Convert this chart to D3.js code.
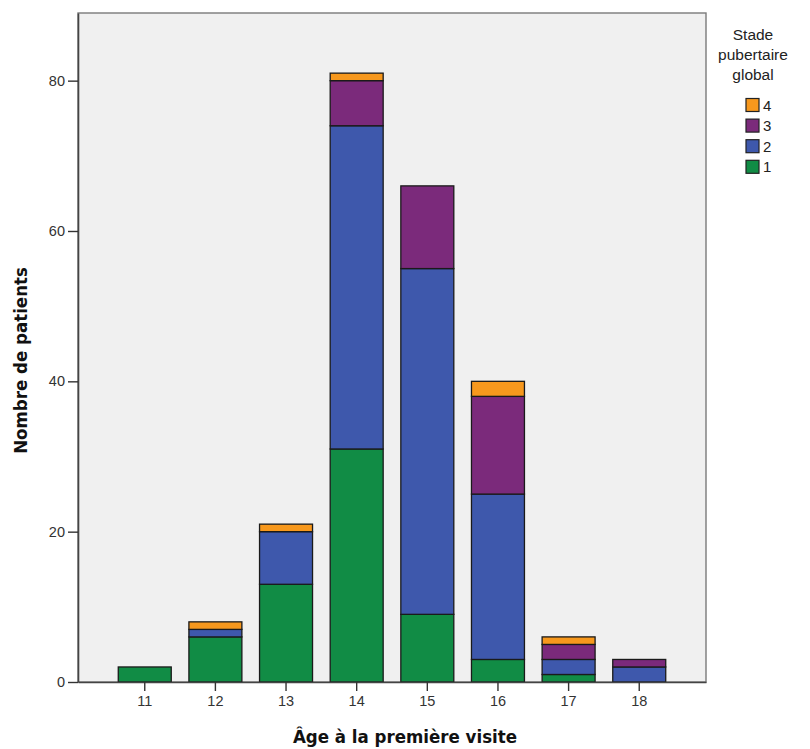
<!DOCTYPE html>
<html><head><meta charset="utf-8">
<script src="https://cdn.jsdelivr.net/npm/d3@7"></script>
<style>body{margin:0;background:#fff}</style>
</head><body>
<svg id="c" width="810" height="749"></svg>
<script>
const ages = ["11","12","13","14","15","16","17","18"];
const stage1 = [2, 6, 13, 31, 9, 3, 1, 0];
const stage2 = [0, 1, 7, 43, 46, 22, 2, 2];
const stage3 = [0, 0, 0, 6, 11, 13, 2, 1];
const stage4 = [0, 1, 1, 1, 0, 2, 1, 0];
const stageKeys = ["1","2","3","4"];
const stageColors = ["#118C45","#3E58AC","#7B2A7B","#F7981D"];
const yTicks = [0,20,40,60,80];

const svg = d3.select("#c");
const L=78, R=706, T=13, B=682;
const rows = ages.map((a,i)=>({age:a,"1":stage1[i],"2":stage2[i],"3":stage3[i],"4":stage4[i]}));
const x = d3.scaleBand().domain(ages).range([L,R]).paddingInner(0.25).paddingOuter(0.57);
const y = d3.scaleLinear().domain([0,89]).range([B,T]);
const color = d3.scaleOrdinal().domain(stageKeys).range(stageColors);

svg.append("rect").attr("x",L).attr("y",T).attr("width",R-L).attr("height",B-T)
  .attr("fill","#F0F0F0").attr("stroke","#7a7a7a").attr("stroke-width",1.4);

const stacked = d3.stack().keys(stageKeys)(rows);
svg.append("g").selectAll("g").data(stacked).join("g")
  .attr("fill",d=>color(d.key))
  .selectAll("rect").data(d=>d.filter(s=>s[1]-s[0]>0)).join("rect")
  .attr("x",d=>x(d.data.age)).attr("width",x.bandwidth())
  .attr("y",d=>y(d[1])).attr("height",d=>y(d[0])-y(d[1]))
  .attr("stroke","#1a1a1a").attr("stroke-width",1.3);

const ya = svg.append("g").attr("transform",`translate(${L},0)`)
  .call(d3.axisLeft(y).tickValues(yTicks).tickSize(10).tickSizeOuter(0).tickPadding(3));
const xa = svg.append("g").attr("transform",`translate(0,${B})`)
  .call(d3.axisBottom(x).tickSize(9).tickSizeOuter(0).tickPadding(5));
[ya,xa].forEach(g=>{
  g.select(".domain").attr("stroke","#444").attr("stroke-width",1.6);
  g.selectAll(".tick line").attr("stroke","#333").attr("stroke-width",1.4);
  g.selectAll(".tick text").attr("fill","#333").attr("font-family","Liberation Sans, Arial, sans-serif").attr("font-size",14.5);
});

svg.append("text").attr("transform",`translate(27,${(T+B)/2+13}) rotate(-90)`)
  .attr("text-anchor","middle").attr("font-family","DejaVu Sans Condensed, DejaVu Sans, sans-serif")
  .attr("font-weight","bold").attr("font-size",18.5).attr("fill","#111").text("Nombre de patients");
svg.append("text").attr("x",405).attr("y",743)
  .attr("text-anchor","middle").attr("font-family","DejaVu Sans Condensed, DejaVu Sans, sans-serif")
  .attr("font-weight","bold").attr("font-size",18.5).attr("fill","#111").text("Âge à la première visite");

const lg = svg.append("g");
["Stade","pubertaire","global"].forEach((t,i)=>{
  lg.append("text").attr("x",753).attr("y",40+i*20).attr("text-anchor","middle")
    .attr("font-family","Liberation Sans, Arial, sans-serif").attr("font-size",15.5).attr("fill","#222").text(t);
});
const legendKeys = stageKeys.slice().reverse();
legendKeys.forEach((k,i)=>{
  const cy = 105 + i*20.6;
  lg.append("rect").attr("x",746).attr("y",cy-6.5).attr("width",13).attr("height",13)
    .attr("fill",color(k)).attr("stroke","#222").attr("stroke-width",1.2);
  lg.append("text").attr("x",763).attr("y",cy+5.5).attr("font-family","Liberation Sans, Arial, sans-serif")
    .attr("font-size",15).attr("fill","#222").text(k);
});
</script>
</body></html>
